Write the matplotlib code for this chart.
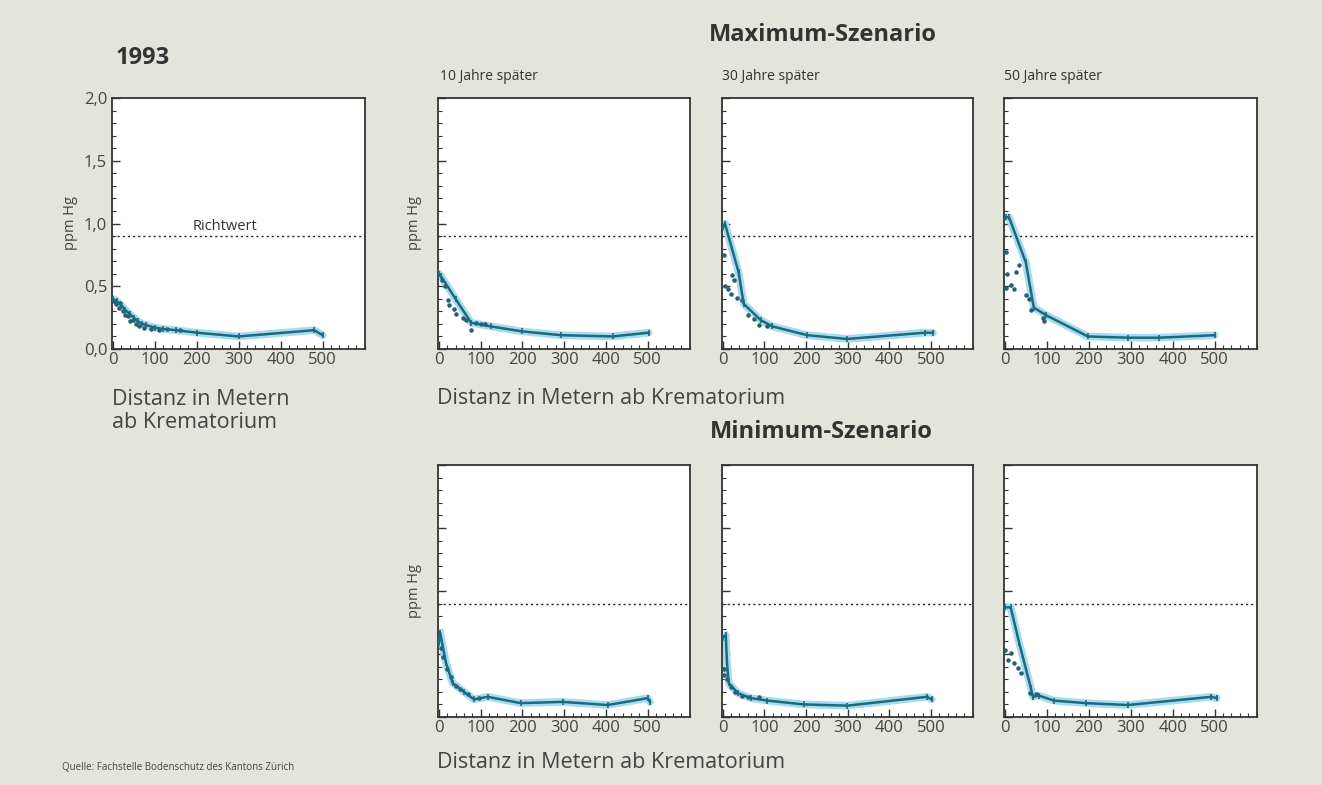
import numpy as np
import matplotlib
matplotlib.use("Agg")
import matplotlib.pyplot as plt
from matplotlib.ticker import MultipleLocator, FixedLocator, FuncFormatter

plt.rcParams['font.family'] = ['Open Sans', 'DejaVu Sans']

# Richtwert (ppm Hg)
richtwert = 0.9

# 1993
x_1993 = [0, 10, 20, 30, 40, 50, 60, 70, 80, 100, 120, 150, 200, 300, 480, 500]
y_1993 = [0.40, 0.38, 0.35, 0.31, 0.28, 0.25, 0.22, 0.20, 0.19, 0.17, 0.16, 0.15, 0.13, 0.10, 0.15, 0.11]
sx_1993 = [3, 8, 14, 18, 24, 28, 35, 42, 48, 55, 62, 75, 90, 110, 130, 160]
sy_1993 = [0.38, 0.36, 0.33, 0.37, 0.30, 0.27, 0.26, 0.22, 0.23, 0.20, 0.18, 0.17, 0.16, 0.15, 0.16, 0.15]

# Maximum-Szenario
x_max10 = [0, 5, 40, 77, 124, 200, 292, 416, 502]
y_max10 = [0.60, 0.58, 0.40, 0.21, 0.18, 0.14, 0.11, 0.10, 0.13]
sx_max10 = [8, 14, 21, 24, 36, 40, 57, 65, 77, 90, 100, 110]
sy_max10 = [0.55, 0.50, 0.39, 0.35, 0.32, 0.28, 0.25, 0.23, 0.15, 0.21, 0.20, 0.20]

x_max30 = [0, 5, 38, 50, 91, 119, 203, 299, 486, 505]
y_max30 = [0.97, 1.00, 0.61, 0.36, 0.23, 0.18, 0.11, 0.08, 0.13, 0.13]
sx_max30 = [12, 19, 23, 26, 35, 47, 60, 74, 86, 107, 3, 5]
sy_max30 = [0.48, 0.44, 0.59, 0.55, 0.41, 0.39, 0.27, 0.24, 0.19, 0.18, 0.75, 0.50]

x_max50 = [2, 10, 50, 69, 98, 198, 294, 368, 500]
y_max50 = [1.05, 1.05, 0.69, 0.33, 0.27, 0.10, 0.09, 0.09, 0.11]
sx_max50 = [2, 3, 14, 22, 26, 34, 50, 57, 62, 91, 93, 5]
sy_max50 = [0.77, 0.49, 0.51, 0.48, 0.61, 0.67, 0.43, 0.40, 0.31, 0.25, 0.22, 0.60]

# Minimum-Szenario
x_min10 = [0, 3, 17, 33, 60, 84, 117, 196, 296, 404, 500, 505]
y_min10 = [0.59, 0.67, 0.43, 0.27, 0.20, 0.14, 0.16, 0.11, 0.12, 0.095, 0.15, 0.12]
sx_min10 = [5, 10, 20, 28, 40, 50, 70, 95]
sy_min10 = [0.55, 0.48, 0.38, 0.32, 0.25, 0.22, 0.18, 0.15]

x_min30 = [0, 7, 10, 14, 36, 67, 107, 194, 299, 490, 502]
y_min30 = [0.63, 0.65, 0.43, 0.27, 0.19, 0.15, 0.13, 0.10, 0.09, 0.16, 0.14]
sx_min30 = [3, 2, 10, 20, 30, 45, 60, 86]
sy_min30 = [0.38, 0.33, 0.30, 0.24, 0.20, 0.17, 0.16, 0.16]

x_min50 = [0, 14, 34, 62, 67, 81, 117, 193, 293, 492, 505]
y_min50 = [0.87, 0.87, 0.59, 0.23, 0.16, 0.17, 0.13, 0.11, 0.095, 0.16, 0.15]
sx_min50 = [1, 14, 7, 22, 31, 38, 60, 75]
sy_min50 = [0.53, 0.51, 0.45, 0.43, 0.39, 0.35, 0.19, 0.18]

x_ticks = [0, 100, 200, 300, 400, 500]

line_col = '#1d6a80'
halo_col = '#a6dced'
dot_col = '#2a5f70'
bg = '#e3e4dc'

W, H = 1322, 785
fig = plt.figure(figsize=(W / 100, H / 100), dpi=100)
fig.patch.set_facecolor(bg)


def box(x0, y0, x1, y1):
    return [x0 / W, 1 - y1 / H, (x1 - x0) / W, (y1 - y0) / H]


def panel(rect, x, y, sx, sy, ylabels=False, ylabel=False):
    ax = fig.add_axes(rect)
    ax.set_facecolor('white')
    ax.plot(x, y, color=halo_col, lw=5.5, solid_capstyle='round', zorder=2)
    ax.scatter(sx, sy, s=5, color=dot_col, zorder=3)
    ax.plot(x, y, color=line_col, lw=1.8, marker='|', ms=5, mew=1.2, zorder=4)
    ax.axhline(richtwert, color='#222222', lw=1.0, ls=(0, (1.5, 2.2)), zorder=1)
    ax.set_xlim(-2, 601)
    ax.set_ylim(0, 2.0)
    ax.xaxis.set_major_locator(FixedLocator(x_ticks))
    ax.xaxis.set_minor_locator(MultipleLocator(20))
    ax.yaxis.set_major_locator(MultipleLocator(0.5))
    ax.yaxis.set_minor_locator(MultipleLocator(0.1))
    ax.tick_params(which='both', direction='in', top=False, right=False,
                   colors='#333333', labelcolor='#444444', labelsize=12)
    ax.tick_params(which='major', length=6, width=1.0)
    ax.tick_params(which='minor', length=3, width=0.8)
    ax.tick_params(axis='x', pad=2)
    if ylabels:
        ax.yaxis.set_major_formatter(FuncFormatter(lambda v, p: f'{v:.1f}'.replace('.', ',')))
    else:
        ax.set_yticklabels([])
    if ylabel:
        ax.set_ylabel('ppm Hg', fontsize=10.5, color='#444444', labelpad=8 if not ylabels else 4)
    for s in ax.spines.values():
        s.set_color('#333333')
        s.set_linewidth(1.3)
    return ax


ax93 = panel(box(112, 98, 365, 349), x_1993, y_1993, sx_1993, sy_1993, ylabels=True, ylabel=True)
ax93.text(268, 0.92, 'Richtwert', ha='center', va='bottom', fontsize=10.5, color='#333333')

panel(box(438, 98, 690, 349), x_max10, y_max10, sx_max10, sy_max10, ylabel=True)
panel(box(722, 98, 973, 349), x_max30, y_max30, sx_max30, sy_max30)
panel(box(1004, 98, 1257, 349), x_max50, y_max50, sx_max50, sy_max50)

panel(box(438, 465, 690, 717), x_min10, y_min10, sx_min10, sy_min10, ylabel=True)
panel(box(722, 465, 973, 717), x_min30, y_min30, sx_min30, sy_min30)
panel(box(1004, 465, 1257, 717), x_min50, y_min50, sx_min50, sy_min50)


def ftext(x, y, s, **kw):
    fig.text(x / W, 1 - y / H, s, **kw)


ftext(116, 58, '1993', fontsize=17, fontweight='bold', color='#333333', va='center')
ftext(823, 35, 'Maximum-Szenario', fontsize=17, fontweight='bold', color='#333333', va='center', ha='center')
ftext(821, 432, 'Minimum-Szenario', fontsize=17, fontweight='bold', color='#333333', va='center', ha='center')
ftext(440, 76, '10 Jahre später', fontsize=10, color='#333333', va='center')
ftext(722, 76, '30 Jahre später', fontsize=10, color='#333333', va='center')
ftext(1004, 76, '50 Jahre später', fontsize=10, color='#333333', va='center')
ftext(112, 411, 'Distanz in Metern\nab Krematorium', fontsize=15.5, color='#444444', va='center',
      linespacing=1.15)
ftext(437, 399, 'Distanz in Metern ab Krematorium', fontsize=15.5, color='#444444', va='center')
ftext(437, 762, 'Distanz in Metern ab Krematorium', fontsize=15.5, color='#444444', va='center')
ftext(62, 768, 'Quelle: Fachstelle Bodenschutz des Kantons Zürich', fontsize=7, color='#444444', va='center')

fig.savefig('out.png', dpi=100, facecolor=fig.get_facecolor())
